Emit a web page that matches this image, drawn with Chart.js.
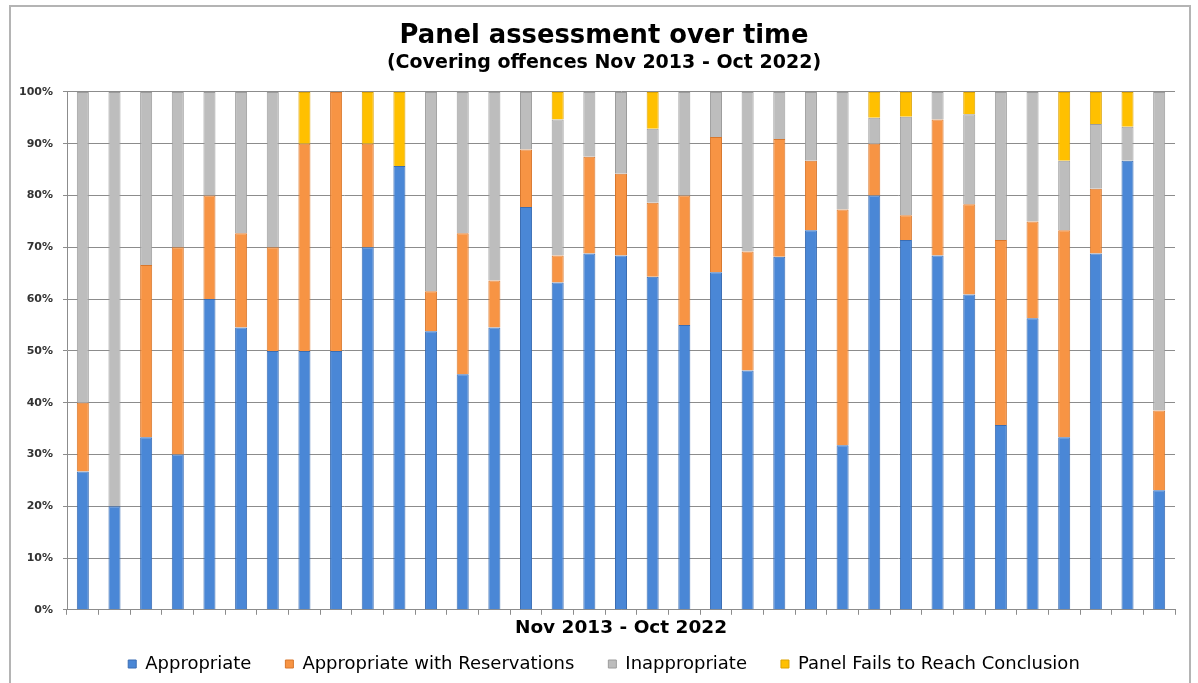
<!DOCTYPE html>
<html>
<head>
<meta charset="utf-8">
<script src="https://cdn.jsdelivr.net/npm/chart.js@4/dist/chart.umd.min.js"></script>
<style>
  body { margin: 0; background: #fff; }
  .frame { position: absolute; left: 9px; top: 5px; width: 1182px; height: 700px; border: 2px solid #b4b4b4; box-sizing: border-box; }
  #chart { position: absolute; left: 0; top: 0; }
</style>
</head>
<body>
<div class="frame"></div>
<canvas id="chart" width="1198" height="683"></canvas>
<script>
// one bar per period, Nov 2013 - Oct 2022 (percent of cases)
const periods = [
  'P1', 'P2', 'P3', 'P4', 'P5', 'P6', 'P7', 'P8', 'P9', 'P10',
  'P11', 'P12', 'P13', 'P14', 'P15', 'P16', 'P17', 'P18', 'P19', 'P20',
  'P21', 'P22', 'P23', 'P24', 'P25', 'P26', 'P27', 'P28', 'P29', 'P30',
  'P31', 'P32', 'P33', 'P34', 'P35'
];
const appropriate = [
  26.7, 20.0, 33.3, 30.0, 60.0, 54.5, 50.0, 50.0, 50.0, 70.0,
  85.7, 53.8, 45.5, 54.5, 77.8, 63.2, 68.8, 68.4, 64.3, 55.0,
  65.2, 46.2, 68.2, 73.3, 31.8, 80.0, 71.4, 68.4, 60.9, 35.7,
  56.3, 33.3, 68.8, 86.7, 23.1
];
const withReservations = [
  13.3, 0, 33.3, 40.0, 20.0, 18.2, 20.0, 40.0, 50.0, 20.0,
  0, 7.7, 27.2, 9.1, 11.1, 5.2, 18.7, 15.8, 14.3, 25.0,
  26.1, 23.0, 22.7, 13.4, 45.5, 10.0, 4.8, 26.3, 17.4, 35.7,
  18.7, 40.0, 12.5, 0, 15.4
];
const inappropriate = [
  60.0, 80.0, 33.4, 30.0, 20.0, 27.3, 30.0, 0, 0, 0,
  0, 38.5, 27.3, 36.4, 11.1, 26.3, 12.5, 15.8, 14.3, 20.0,
  8.7, 30.8, 9.1, 13.3, 22.7, 5.0, 19.0, 5.3, 17.4, 28.6,
  25.0, 13.4, 12.5, 6.6, 61.5
];
const noConclusion = [
  0, 0, 0, 0, 0, 0, 0, 10.0, 0, 10.0,
  14.3, 0, 0, 0, 0, 5.3, 0, 0, 7.1, 0,
  0, 0, 0, 0, 0, 5.0, 4.8, 0, 4.3, 0,
  0, 13.3, 6.2, 6.7, 0
];
const yTicks = [0, 10, 20, 30, 40, 50, 60, 70, 80, 90, 100];

const gridColor = '#8c8c8c';

function series(label, data, color, edge) {
  return {
    label: label,
    data: data,
    backgroundColor: color,
    borderColor: edge,
    borderWidth: 1,
    barPercentage: 0.38,
    categoryPercentage: 1.0
  };
}

// left padding shifts titles/legend right; let the y labels use that room too
const yLabelRoom = {
  id: 'yLabelRoom',
  afterLayout(chart) { chart.scales.y.left = 0; }
};

new Chart(document.getElementById('chart'), {
  type: 'bar',
  data: {
    labels: periods,
    datasets: [
      series('Appropriate', appropriate, '#4a87d6', '#3a6db3'),
      series('Appropriate with Reservations', withReservations, '#f79444', '#d8772c'),
      series('Inappropriate', inappropriate, '#bdbdbd', '#9c9c9c'),
      series('Panel Fails to Reach Conclusion', noConclusion, '#ffc000', '#dda300')
    ]
  },
  plugins: [yLabelRoom],
  options: {
    responsive: false,
    animation: false,
    layout: { padding: { left: 33, right: 23, top: 0, bottom: 0 } },
    plugins: {
      title: {
        display: true,
        text: 'Panel assessment over time',
        color: '#000',
        font: { family: 'DejaVu Sans', size: 25.8, weight: 'bold' },
        padding: { top: 20.5, bottom: 0 }
      },
      subtitle: {
        display: true,
        text: '(Covering offences Nov 2013 - Oct 2022)',
        color: '#000',
        font: { family: 'DejaVu Sans', size: 19, weight: 'bold' },
        padding: { top: 0, bottom: 17.7 }
      },
      legend: {
        position: 'bottom',
        labels: {
          color: '#000',
          font: { family: 'DejaVu Sans', size: 18 },
          boxWidth: 8,
          boxHeight: 8,
          padding: 34
        }
      },
      tooltip: { enabled: false }
    },
    scales: {
      x: {
        stacked: true,
        offset: true,
        grid: { display: true, drawOnChartArea: false, offset: true, color: gridColor, tickLength: 5 },
        border: { color: gridColor },
        ticks: { display: false },
        title: {
          display: true,
          text: 'Nov 2013 - Oct 2022',
          color: '#000',
          font: { family: 'DejaVu Sans', size: 18.5, weight: 'bold' },
          padding: { top: 2, bottom: -18 }
        }
      },
      y: {
        stacked: true,
        min: 0,
        max: 100,
        afterBuildTicks: (s) => { s.ticks = yTicks.map(v => ({ value: v })); },
        afterFit: (s) => { s.width = 34; },
        grid: { color: gridColor, tickLength: 4 },
        border: { color: gridColor },
        ticks: {
          color: '#333',
          padding: 10,
          font: { family: 'DejaVu Sans', size: 11, weight: 'bold' },
          callback: (v) => v + '%'
        }
      }
    }
  }
});
</script>
</body>
</html>
